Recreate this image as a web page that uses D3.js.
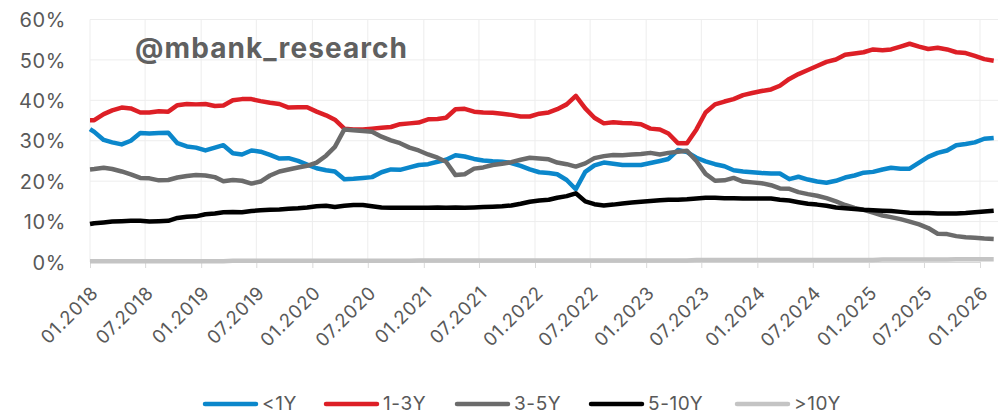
<!DOCTYPE html>
<html>
<head>
<meta charset="utf-8">
<script src="https://cdn.jsdelivr.net/npm/d3@7"></script>
<style>
  html, body { margin: 0; padding: 0; background: #ffffff; }
  svg { display: block; }
</style>
</head>
<body>
<svg id="chart" width="998" height="415"></svg>
<script>
// Share of debt by residual maturity bucket, % (first value: opening reading on 01.01.2018,
// then mid-month readings 01.2018 - 02.2026)
const seriesNames = ["<1Y", "1-3Y", "3-5Y", "5-10Y", ">10Y"];

const under1Y = [32.9,
  32.2, 30.2, 29.6, 29.1, 30.0, 31.9, 31.8, 31.9, 32.0, 29.4,
  28.6, 28.3, 27.6, 28.3, 28.9, 26.9, 26.6, 27.6, 27.3, 26.5,
  25.6, 25.7, 25.0, 24.1, 23.2, 22.7, 22.4, 20.5, 20.6, 20.8,
  21.0, 22.2, 22.9, 22.8, 23.4, 24.0, 24.2, 24.8, 25.3, 26.4,
  26.1, 25.5, 25.1, 24.9, 24.8, 24.5, 23.8, 22.9, 22.2, 22.0,
  21.7, 20.3, 18.0, 22.3, 23.9, 24.6, 24.3, 24.0, 24.0, 24.0,
  24.5, 25.0, 25.5, 27.7, 27.2, 25.8, 24.9, 24.2, 23.7, 22.7,
  22.4, 22.2, 22.0, 21.9, 21.9, 20.5, 21.1, 20.4, 19.9, 19.6,
  20.1, 20.9, 21.4, 22.1, 22.3, 22.9, 23.3, 23.1, 23.1, 24.6,
  26.0, 27.0, 27.6, 28.9, 29.2, 29.6, 30.5, 30.7];

const from1to3Y = [35.1,
  35.1, 36.6, 37.5, 38.2, 38.0, 37.0, 37.0, 37.3, 37.2, 38.8,
  39.1, 39.0, 39.1, 38.6, 38.7, 40.0, 40.3, 40.3, 39.8, 39.4,
  39.1, 38.2, 38.3, 38.3, 37.2, 36.3, 35.2, 33.0, 32.8, 32.8,
  33.0, 33.2, 33.4, 34.1, 34.3, 34.5, 35.3, 35.4, 35.7, 37.8,
  37.9, 37.2, 37.0, 36.9, 36.7, 36.4, 36.0, 36.0, 36.7, 37.0,
  37.8, 39.0, 41.1, 38.0, 35.7, 34.3, 34.6, 34.4, 34.3, 34.1,
  33.0, 32.8, 31.8, 29.4, 29.4, 32.8, 37.0, 39.0, 39.7, 40.3,
  41.3, 41.8, 42.3, 42.7, 43.6, 45.3, 46.5, 47.5, 48.5, 49.5,
  50.1, 51.3, 51.6, 51.9, 52.6, 52.4, 52.6, 53.3, 54.0, 53.3,
  52.7, 53.0, 52.6, 51.9, 51.7, 51.0, 50.2, 49.8];

const from3to5Y = [22.9,
  23.0, 23.3, 23.0, 22.4, 21.7, 20.8, 20.7, 20.2, 20.3, 20.9,
  21.3, 21.5, 21.4, 21.0, 20.0, 20.3, 20.1, 19.4, 19.9, 21.4,
  22.4, 22.9, 23.4, 23.8, 24.6, 26.3, 28.5, 32.8, 32.6, 32.4,
  32.2, 31.0, 30.1, 29.4, 28.3, 27.6, 26.6, 25.8, 24.8, 21.5,
  21.7, 23.1, 23.4, 24.0, 24.3, 24.7, 25.3, 25.8, 25.6, 25.4,
  24.6, 24.2, 23.6, 24.4, 25.7, 26.2, 26.5, 26.4, 26.6, 26.7,
  27.0, 26.6, 27.0, 27.3, 27.5, 25.0, 21.8, 20.1, 20.2, 20.8,
  19.9, 19.7, 19.5, 19.0, 18.2, 18.1, 17.3, 16.8, 16.4, 15.8,
  15.0, 14.1, 13.4, 12.9, 12.2, 11.5, 11.1, 10.6, 10.0, 9.3,
  8.4, 7.0, 6.9, 6.4, 6.1, 6.0, 5.8, 5.7];

const from5to10Y = [9.4,
  9.6, 9.8, 10.0, 10.1, 10.2, 10.2, 10.0, 10.1, 10.2, 10.9,
  11.2, 11.3, 11.8, 12.0, 12.3, 12.4, 12.3, 12.6, 12.8, 12.9,
  13.0, 13.2, 13.3, 13.5, 13.8, 13.9, 13.6, 13.9, 14.1, 14.1,
  13.8, 13.5, 13.4, 13.4, 13.4, 13.4, 13.4, 13.5, 13.4, 13.5,
  13.4, 13.5, 13.6, 13.7, 13.8, 14.0, 14.4, 14.9, 15.2, 15.4,
  15.9, 16.3, 17.0, 15.0, 14.3, 14.0, 14.2, 14.5, 14.7, 14.9,
  15.1, 15.3, 15.4, 15.4, 15.5, 15.7, 15.9, 15.9, 15.8, 15.8,
  15.7, 15.7, 15.7, 15.7, 15.4, 15.2, 14.8, 14.4, 14.2, 13.9,
  13.5, 13.3, 13.1, 12.9, 12.8, 12.7, 12.6, 12.4, 12.2, 12.1,
  12.1, 12.0, 12.0, 12.0, 12.1, 12.3, 12.5, 12.7];

const over10Y = [0.2,
  0.2, 0.2, 0.2, 0.2, 0.2, 0.2, 0.2, 0.2, 0.2, 0.2,
  0.2, 0.2, 0.2, 0.2, 0.2, 0.3, 0.3, 0.3, 0.3, 0.3,
  0.3, 0.3, 0.3, 0.3, 0.3, 0.3, 0.3, 0.3, 0.3, 0.3,
  0.3, 0.3, 0.3, 0.3, 0.3, 0.4, 0.4, 0.4, 0.4, 0.4,
  0.4, 0.4, 0.4, 0.4, 0.4, 0.4, 0.4, 0.4, 0.4, 0.4,
  0.4, 0.4, 0.4, 0.4, 0.4, 0.4, 0.4, 0.4, 0.4, 0.4,
  0.4, 0.4, 0.4, 0.4, 0.4, 0.5, 0.5, 0.5, 0.5, 0.5,
  0.5, 0.5, 0.5, 0.5, 0.5, 0.5, 0.5, 0.5, 0.5, 0.5,
  0.5, 0.5, 0.5, 0.5, 0.5, 0.6, 0.6, 0.6, 0.6, 0.6,
  0.6, 0.6, 0.6, 0.7, 0.7, 0.7, 0.7, 0.7];

const yTickValues = [0, 10, 20, 30, 40, 50, 60];
const watermark = "@mbank_research";

// Observation dates: opening reading, then the 15th of every month
const openingDate = new Date(2018, 0, 1);
const monthStarts = d3.timeMonth.range(new Date(2018, 0, 1), new Date(2026, 2, 1));
const observationDates = [openingDate].concat(monthStarts.map(m => d3.timeDay.offset(m, 14)));
const labelDates = d3.timeMonth.range(new Date(2018, 0, 1), new Date(2026, 0, 2), 6);

const seriesValues = [under1Y, from1to3Y, from3to5Y, from5to10Y, over10Y];
const seriesColors = ["#0b87cb", "#dd1f26", "#6b6b6b", "#000000", "#c4c4c4"];

const FONT = "Inter, 'Open Sans', sans-serif";
const TEXT = "#595959";

const svg = d3.select("#chart");
const plot = { left: 90, right: 998, top: 19.5, bottom: 262 };

const x = d3.scaleTime()
  .domain([new Date(2018, 0, 1), new Date(2026, 0, 1)])
  .range([90, 980]);
const y = d3.scaleLinear().domain([0, 60]).range([plot.bottom, plot.top]);

// horizontal gridlines
svg.append("g")
  .selectAll("line")
  .data(yTickValues.filter(v => v > 0))
  .join("line")
  .attr("x1", plot.left).attr("x2", plot.right)
  .attr("y1", d => y(d)).attr("y2", d => y(d))
  .attr("stroke", "#ededed").attr("stroke-width", 1);

// vertical gridlines
svg.append("g")
  .selectAll("line")
  .data(labelDates)
  .join("line")
  .attr("x1", d => x(d)).attr("x2", d => x(d))
  .attr("y1", plot.top).attr("y2", plot.bottom)
  .attr("stroke", "#ededed").attr("stroke-width", 1);

// y axis labels
const yAxis = svg.append("g")
  .attr("transform", "translate(66,0)")
  .call(d3.axisLeft(y).tickValues(yTickValues).tickFormat(d => d + "%").tickSize(0).tickPadding(0));
yAxis.select(".domain").remove();
yAxis.selectAll("text")
  .attr("font-family", FONT).attr("font-size", 20).attr("fill", TEXT)
  .attr("letter-spacing", 0.6)
  .attr("dy", "0.36em");

// x axis: tick marks and rotated date labels
const xAxis = svg.append("g")
  .attr("transform", `translate(0,${plot.bottom})`)
  .call(d3.axisBottom(x).tickValues(labelDates).tickFormat(d3.timeFormat("%m.%Y")).tickSize(6).tickSizeOuter(0));
xAxis.select(".domain").attr("stroke", "#d9d9d9");
xAxis.selectAll(".tick line").attr("stroke", "#d9d9d9");
xAxis.selectAll("text")
  .attr("font-family", FONT).attr("font-size", 18.5).attr("fill", TEXT)
  .attr("letter-spacing", 0.8)
  .attr("x", null).attr("y", null).attr("dy", null)
  .attr("text-anchor", "end")
  .attr("transform", "translate(9,32) rotate(-45)");

// watermark
svg.append("text")
  .attr("x", 135).attr("y", 58)
  .attr("font-family", FONT).attr("font-weight", 700).attr("font-size", 28)
  .attr("fill", "#606060")
  .attr("textLength", 272).attr("lengthAdjust", "spacing")
  .text(watermark);

// series lines
const line = d3.line()
  .x((d, i) => x(observationDates[i]))
  .y(d => y(d));

svg.append("g")
  .selectAll("path")
  .data(seriesValues)
  .join("path")
  .attr("d", d => line(d))
  .attr("fill", "none")
  .attr("stroke", (d, i) => seriesColors[i])
  .attr("stroke-width", 4.5)
  .attr("stroke-linejoin", "round")
  .attr("stroke-linecap", "butt");

// legend
const legendX = [203, 324, 455, 589, 735];
const legend = svg.append("g").attr("transform", "translate(0,404)");
const items = legend.selectAll("g")
  .data(seriesNames)
  .join("g")
  .attr("transform", (d, i) => `translate(${legendX[i]},0)`);
items.append("line")
  .attr("x1", 2).attr("x2", 53).attr("y1", 0).attr("y2", 0)
  .attr("stroke", (d, i) => seriesColors[i])
  .attr("stroke-width", 4.5)
  .attr("stroke-linecap", "round");
items.append("text")
  .attr("x", 59).attr("y", 0).attr("dy", "0.33em")
  .attr("font-family", FONT).attr("font-size", 19).attr("fill", TEXT)
  .attr("letter-spacing", 0.6)
  .text(d => d);
</script>
</body>
</html>
